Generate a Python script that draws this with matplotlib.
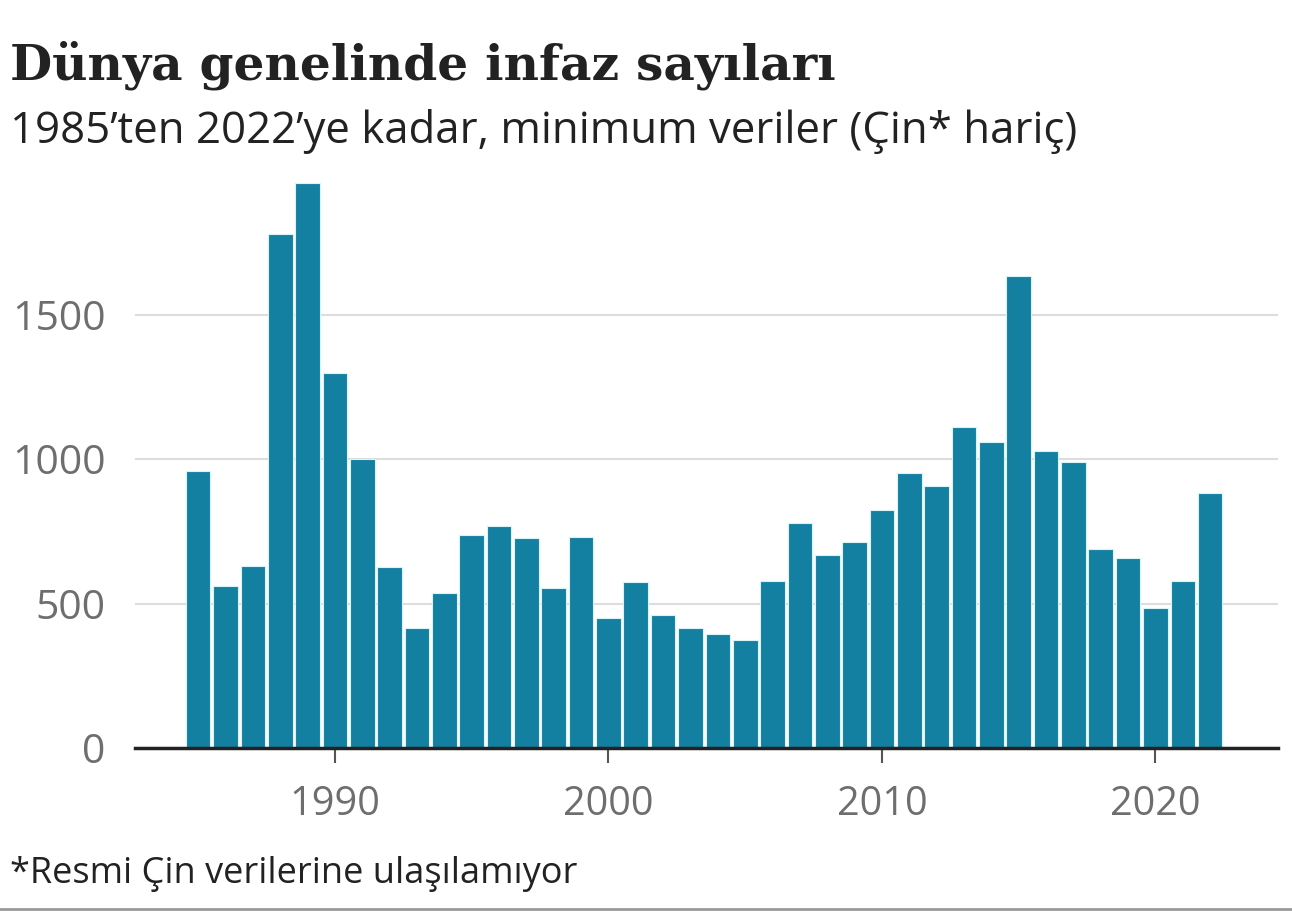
import matplotlib
matplotlib.use("Agg")
import matplotlib.pyplot as plt
from matplotlib.lines import Line2D

years = list(range(1985, 2023))
executions = [960, 560, 630, 1779, 1955, 1297, 1000, 626, 415, 536,
              737, 768, 727, 554, 730, 450, 574, 460, 415, 394,
              374, 578, 779, 668, 713, 823, 951, 907, 1111, 1059,
              1634, 1028, 990, 690, 657, 483, 579, 883]
yticks = [0, 500, 1000, 1500]
xticks = [1990, 2000, 2010, 2020]

title = "Dünya genelinde infaz sayıları"
subtitle = "1985’ten 2022’ye kadar, minimum veriler (Çin* hariç)"
footnote = "*Resmi Çin verilerine ulaşılamıyor"

W, H = 1292, 914
fig = plt.figure(figsize=(W / 100, H / 100), dpi=100)
fig.patch.set_facecolor("white")

ax = fig.add_axes([135 / W, 1 - 748 / H, (1278 - 135) / W, (748 - 170) / H])
ax.bar(years, executions, width=0.9, color="#1380A1", edgecolor="#d8f4f8", linewidth=0.8, zorder=3)
ax.set_xlim(1982.69, 2024.48)
ax.set_ylim(0, 2000)
ax.set_yticks(yticks)
ax.set_xticks(xticks)
ax.grid(axis="y", color="#dddddd", linewidth=1.5, zorder=0)
for s in ["top", "right", "left"]:
    ax.spines[s].set_visible(False)
ax.spines["bottom"].set_color("#222222")
ax.spines["bottom"].set_linewidth(2.5)
ax.spines["bottom"].set_zorder(4)
ax.tick_params(axis="y", length=0, pad=21, labelsize=29.5, labelcolor="#6e6e6e")
ax.tick_params(axis="x", length=11, width=1.5, color="#555555", pad=15, labelsize=28.5, labelcolor="#6e6e6e")
for lab in ax.get_xticklabels() + ax.get_yticklabels():
    lab.set_family("Open Sans")

fig.text(10 / W, 1 - 80 / H, title, family="DejaVu Serif", weight="bold", fontsize=35,
         color="#222222", va="baseline", ha="left")
fig.text(10 / W, 1 - 143 / H, subtitle, family="Open Sans", fontsize=31.5,
         color="#222222", va="baseline", ha="left")
fig.text(10 / W, 1 - 883 / H, footnote, family="Open Sans", fontsize=26,
         color="#222222", va="baseline", ha="left")
fig.add_artist(Line2D([0, 1], [1 - 909 / H, 1 - 909 / H], transform=fig.transFigure,
                      color="#999999", linewidth=2))

fig.savefig("out.png", dpi=100)
